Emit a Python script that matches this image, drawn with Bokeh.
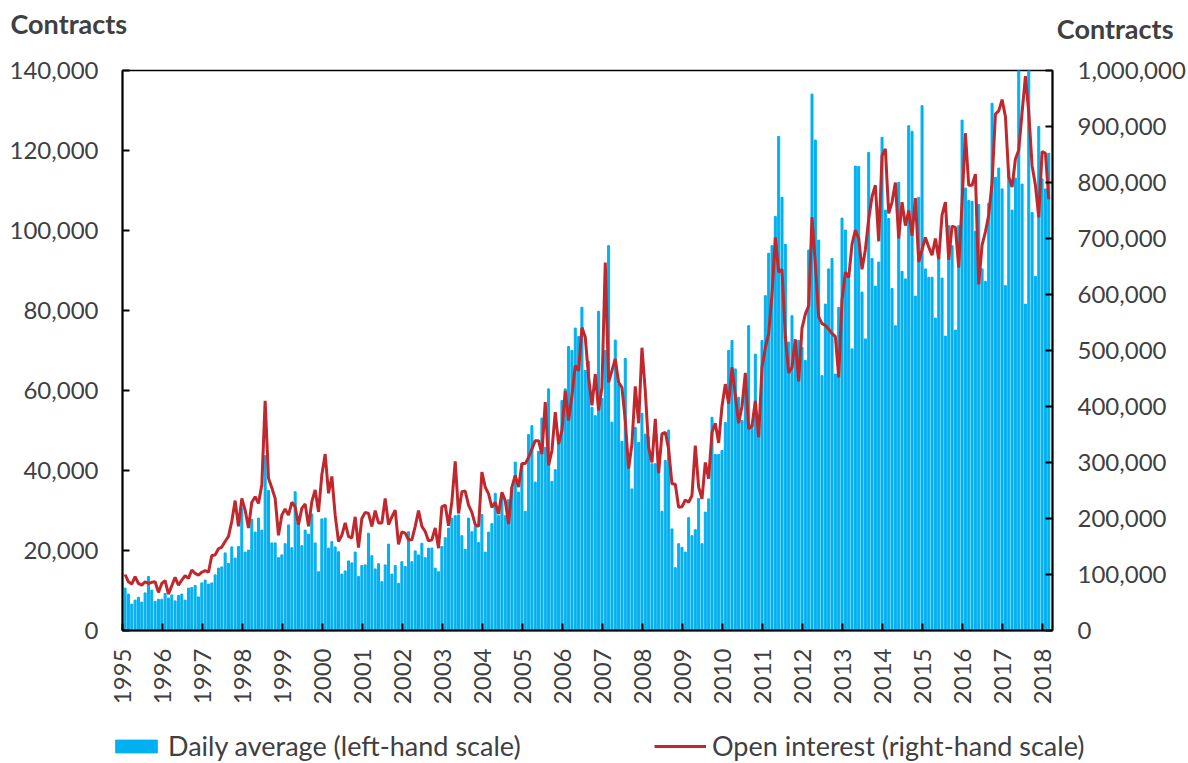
from math import pi
from bokeh.plotting import figure
from bokeh.layouts import column
from bokeh.models import (Range1d, LinearAxis, FixedTicker, NumeralTickFormatter,
                          Label, Legend, LegendItem)
from bokeh.embed import file_html
from bokeh.resources import INLINE

# ---------------- data (monthly, Jan 1995 - Feb 2018) ----------------
year_labels = [str(y) for y in range(1995, 2019)]
left_title = "Contracts"
right_title = "Contracts"
bar_label = "Daily average (left-hand scale)"
line_label = "Open interest (right-hand scale)"

daily_average = [
    10600, 9100, 6600, 7600, 8300, 7100, 9400, 13500, 10100, 7300, 7800, 7800,        # 1995
    9250, 8100, 8900, 7400, 8750, 9100, 7600, 10600, 10750, 11250, 8400, 11900,       # 1996
    12600, 11600, 11900, 13900, 15600, 15900, 19400, 16750, 20900, 18100, 21000, 30600,  # 1997
    19600, 20100, 27800, 24600, 28100, 25100, 43700, 35000, 21900, 21900, 18200, 18900,  # 1998
    21700, 26400, 20700, 34700, 28500, 21200, 25100, 24100, 29100, 21900, 14700, 27900,  # 1999
    28100, 20600, 22200, 20900, 19700, 14100, 14900, 17400, 16900, 19600, 13500, 16250,  # 2000
    16400, 24300, 18700, 15400, 16700, 12200, 16400, 21600, 14100, 16250, 11800, 17200,  # 2001
    16000, 24700, 17200, 19900, 18900, 21800, 18200, 20600, 20600, 15600, 14700, 21000,  # 2002
    23200, 25600, 28100, 28700, 28900, 23700, 20300, 28100, 24700, 26000, 22000, 29000,  # 2003
    19600, 24600, 26700, 34300, 28700, 34200, 28700, 32700, 35800, 42100, 34600, 41700,  # 2004
    29800, 49000, 51200, 37100, 44800, 53100, 45800, 60400, 37300, 40200, 46600, 57500,  # 2005
    60400, 71000, 70000, 75600, 73500, 80800, 65000, 67300, 55800, 53700, 79800, 58000,  # 2006
    70000, 96200, 52100, 72600, 61600, 47300, 68000, 42500, 35400, 50800, 47000, 54300,  # 2007
    49100, 48300, 41700, 41700, 40000, 29800, 42500, 50100, 25400, 15700, 21700, 20800,  # 2008
    19600, 28200, 23700, 25200, 33000, 21700, 29600, 32900, 53300, 44000, 44000, 45000,  # 2009
    52000, 70000, 72500, 65400, 58300, 52500, 62500, 76200, 51600, 69100, 50800, 72500,  # 2010
    83700, 94300, 96200, 103500, 123500, 108300, 96500, 72100, 78700, 70000, 72500, 70800,  # 2011
    67500, 95100, 134100, 122600, 97600, 63700, 81600, 90400, 93000, 64100, 80800, 103100,  # 2012
    100100, 88000, 70400, 116100, 116000, 84600, 72900, 119500, 93000, 86100, 92100, 123300,  # 2013
    105100, 103000, 85500, 76200, 112000, 89800, 87900, 126200, 124800, 83600, 108300, 131200,  # 2014
    90400, 88300, 88300, 78100, 93300, 88100, 73600, 101200, 96200, 75100, 101200, 127600,  # 2015
    110600, 107500, 107300, 99800, 106500, 90400, 87300, 106800, 131800, 113300, 115600, 110400,  # 2016
    86200, 115100, 105100, 113100, 140000, 111600, 81600, 140000, 104500, 88500, 126000, 112900,  # 2017
    110400, 119300,                                                                        # 2018
]

open_interest = [
    100000, 87000, 83000, 96000, 84000, 81000, 87000, 84000, 86000, 87000, 68000, 84000,
    89000, 65000, 80000, 95000, 81000, 90000, 98000, 93000, 108000, 102000, 99000, 104000,
    107000, 104000, 134000, 135000, 146000, 149000, 159000, 168000, 195000, 232000, 186000, 236000,
    215000, 183000, 229000, 239000, 227000, 260000, 410000, 272000, 255000, 236000, 170000, 206000,
    217000, 206000, 229000, 221000, 189000, 218000, 226000, 186000, 230000, 251000, 212000, 278000,
    315000, 245000, 275000, 206000, 159000, 170000, 192000, 168000, 165000, 203000, 148000, 200000,
    211000, 209000, 186000, 214000, 192000, 192000, 236000, 189000, 203000, 215000, 154000, 176000,
    174000, 162000, 162000, 186000, 214000, 186000, 177000, 160000, 162000, 183000, 147000, 221000,
    224000, 187000, 230000, 302000, 209000, 248000, 249000, 224000, 211000, 189000, 186000, 283000,
    256000, 244000, 220000, 229000, 208000, 247000, 232000, 190000, 256000, 277000, 256000, 298000,
    298000, 309000, 324000, 339000, 339000, 315000, 408000, 295000, 321000, 390000, 333000, 357000,
    428000, 375000, 419000, 473000, 464000, 541000, 524000, 452000, 402000, 458000, 393000, 434000,
    657000, 443000, 464000, 485000, 443000, 434000, 375000, 289000, 333000, 436000, 370000, 505000,
    428000, 327000, 300000, 378000, 281000, 351000, 354000, 324000, 262000, 261000, 220000, 221000,
    233000, 229000, 241000, 330000, 256000, 235000, 300000, 271000, 354000, 370000, 335000, 400000,
    440000, 405000, 470000, 420000, 370000, 400000, 460000, 360000, 365000, 410000, 345000, 470000,
    505000, 530000, 600000, 702000, 640000, 645000, 525000, 460000, 470000, 520000, 445000, 540000,
    565000, 580000, 738000, 655000, 560000, 548000, 545000, 538000, 530000, 525000, 452000, 590000,
    640000, 630000, 690000, 715000, 700000, 645000, 680000, 735000, 775000, 795000, 695000, 848000,
    860000, 745000, 765000, 800000, 700000, 765000, 723000, 750000, 705000, 772000, 658000, 680000,
    702000, 685000, 670000, 700000, 663000, 742000, 765000, 662000, 722000, 720000, 648000, 765000,
    888000, 795000, 795000, 815000, 618000, 688000, 712000, 742000, 800000, 922000, 928000, 948000,
    918000, 810000, 792000, 842000, 858000, 925000, 990000, 925000, 830000, 795000, 738000, 855000,
    852000, 770000,
]

# month positions on the axis (0 = start of 1995)
n = len(daily_average)
month_pos = [i + 0.78 for i in range(n)]

FONT = "Lato"
TXT = "#404040"
BAR = "#00B0F0"
LINE = "#C0282D"
W = 1188
TOP_H, MAIN_H, LEG_H = 52, 666, 45


def no_align(fig):
    try:
        fig.frame_align = False
    except Exception:
        pass


# ---------------- top strip: axis titles ----------------
top = figure(width=W, height=TOP_H, output_backend="svg", toolbar_location=None,
             x_axis_type=None, y_axis_type=None, x_range=Range1d(0, 1),
             y_range=Range1d(0, 1), min_border=0, outline_line_color=None)
top.grid.visible = False
no_align(top)
top.add_layout(Label(x=10, y=29, x_units="screen", y_units="screen",
                     text=left_title, text_font=FONT, text_font_size="27px",
                     text_font_style="bold", text_color=TXT,
                     text_baseline="alphabetic"))
top.add_layout(Label(x=1173, y=24, x_units="screen", y_units="screen",
                     text=right_title, text_font=FONT, text_font_size="27px",
                     text_font_style="bold", text_color=TXT,
                     text_baseline="alphabetic", text_align="right"))

# ---------------- main chart ----------------
p = figure(width=W, height=MAIN_H, output_backend="svg", toolbar_location=None,
           x_range=Range1d(0, 278.9), y_range=Range1d(0, 140000),
           min_border_left=122, min_border_right=135, min_border_top=18,
           min_border_bottom=88)
no_align(p)
p.extra_y_ranges = {"oi": Range1d(0, 1000000)}
p.xgrid.visible = False
p.ygrid.visible = False
p.outline_line_color = "black"
p.outline_line_width = 1.5

bars = p.vbar(x=month_pos, top=daily_average, width=0.6, color=BAR)
line = p.line(x=month_pos, y=open_interest, y_range_name="oi",
              line_color=LINE, line_width=3)


def style_axis(ax, standoff):
    ax.axis_line_color = "black"
    ax.axis_line_width = 2
    ax.major_tick_in = 7
    ax.major_tick_out = 0
    ax.major_tick_line_color = "black"
    ax.major_tick_line_width = 2
    ax.minor_tick_line_color = None
    ax.major_label_text_font = FONT
    ax.major_label_text_font_size = "24px"
    ax.major_label_text_color = TXT
    ax.major_label_standoff = standoff


xa = p.xaxis[0]
xa.ticker = FixedTicker(ticks=[12 * k for k in range(len(year_labels))])
xa.major_label_overrides = {12 * k: lab for k, lab in enumerate(year_labels)}
xa.major_label_orientation = pi / 2
style_axis(xa, 18)

ya = p.yaxis[0]
ya.ticker = FixedTicker(ticks=list(range(0, 140001, 20000)))
ya.formatter = NumeralTickFormatter(format="0,0")
style_axis(ya, 24)

ra = LinearAxis(y_range_name="oi",
                ticker=FixedTicker(ticks=list(range(0, 1000001, 100000))),
                formatter=NumeralTickFormatter(format="0,0"))
style_axis(ra, 25)
p.add_layout(ra, "right")

# ---------------- bottom strip: legend ----------------
leg = figure(width=W, height=LEG_H, output_backend="svg", toolbar_location=None,
             x_axis_type=None, y_axis_type=None, x_range=Range1d(0, 1),
             y_range=Range1d(0, 1), min_border=0, outline_line_color=None)
leg.grid.visible = False
no_align(leg)
# proxy renderers (outside the visible range) that only feed the legend glyphs
lb = leg.vbar(x=[5], top=[6], bottom=[5], width=1, color=BAR)
ll = leg.line(x=[5, 6], y=[5, 5], line_color=LINE, line_width=3)


def make_legend(label, rend, loc):
    return Legend(items=[LegendItem(label=label, renderers=[rend])],
                  location=loc, orientation="horizontal",
                  label_text_font=FONT, label_text_font_size="27px",
                  label_text_color=TXT, glyph_width=52, glyph_height=16,
                  label_standoff=6, padding=0, margin=0, spacing=0,
                  border_line_alpha=0, background_fill_alpha=0)


leg.add_layout(make_legend(bar_label, lb, (110, 1)), "center")
leg.add_layout(make_legend(line_label, ll, (654, 1)), "center")

layout = column(top, p, leg, spacing=0)
open("out.html", "w").write(file_html(layout, INLINE))
